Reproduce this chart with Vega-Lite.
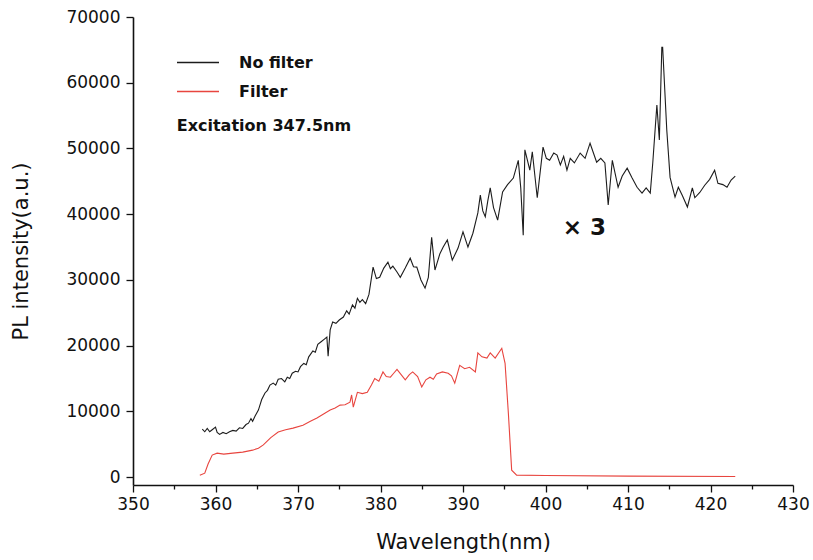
{
  "$schema": "https://vega.github.io/schema/vega-lite/v6.json",
  "width": 660,
  "height": 468,
  "autosize": "none",
  "padding": {"left": 133, "top": 17, "right": 20, "bottom": 75},
  "background": "white",
  "config": {
    "view": {"stroke": null},
    "font": "DejaVu Sans",
    "axis": {
      "grid": false,
      "domainColor": "#111",
      "domainWidth": 1.6,
      "tickColor": "#111",
      "tickWidth": 1.3,
      "labelFont": "DejaVu Sans",
      "labelFontSize": 17,
      "labelColor": "#111",
      "titleFont": "DejaVu Sans",
      "titleFontSize": 21,
      "titleFontWeight": "normal",
      "titleColor": "#111"
    }
  },
  "datasets": {
    "spectra": [
      {"series": "No filter", "wl": 358.4, "pl": 7300},
      {"series": "No filter", "wl": 358.7, "pl": 6900},
      {"series": "No filter", "wl": 359.0, "pl": 7400},
      {"series": "No filter", "wl": 359.3, "pl": 6900},
      {"series": "No filter", "wl": 359.6, "pl": 7200},
      {"series": "No filter", "wl": 360.0, "pl": 7600},
      {"series": "No filter", "wl": 360.2, "pl": 6800},
      {"series": "No filter", "wl": 360.5, "pl": 6500},
      {"series": "No filter", "wl": 360.9, "pl": 6800},
      {"series": "No filter", "wl": 361.3, "pl": 6600},
      {"series": "No filter", "wl": 361.7, "pl": 6900},
      {"series": "No filter", "wl": 362.1, "pl": 7100},
      {"series": "No filter", "wl": 362.5, "pl": 7000},
      {"series": "No filter", "wl": 362.9, "pl": 7500},
      {"series": "No filter", "wl": 363.3, "pl": 7400},
      {"series": "No filter", "wl": 363.7, "pl": 8000},
      {"series": "No filter", "wl": 364.0, "pl": 8200},
      {"series": "No filter", "wl": 364.3, "pl": 8900},
      {"series": "No filter", "wl": 364.5, "pl": 8500},
      {"series": "No filter", "wl": 364.8, "pl": 9300},
      {"series": "No filter", "wl": 365.2, "pl": 10200},
      {"series": "No filter", "wl": 365.6, "pl": 11800},
      {"series": "No filter", "wl": 366.0, "pl": 12800},
      {"series": "No filter", "wl": 366.3, "pl": 13200},
      {"series": "No filter", "wl": 366.6, "pl": 14000},
      {"series": "No filter", "wl": 367.0, "pl": 14300},
      {"series": "No filter", "wl": 367.3, "pl": 14000},
      {"series": "No filter", "wl": 367.6, "pl": 14900},
      {"series": "No filter", "wl": 368.0, "pl": 15000},
      {"series": "No filter", "wl": 368.4, "pl": 14500},
      {"series": "No filter", "wl": 368.7, "pl": 15200},
      {"series": "No filter", "wl": 369.0, "pl": 15000},
      {"series": "No filter", "wl": 369.3, "pl": 15800},
      {"series": "No filter", "wl": 369.7, "pl": 16100},
      {"series": "No filter", "wl": 370.0, "pl": 16000},
      {"series": "No filter", "wl": 370.3, "pl": 16800},
      {"series": "No filter", "wl": 370.7, "pl": 17300},
      {"series": "No filter", "wl": 371.0, "pl": 17100},
      {"series": "No filter", "wl": 371.3, "pl": 18300},
      {"series": "No filter", "wl": 371.8, "pl": 19200},
      {"series": "No filter", "wl": 372.1, "pl": 19000},
      {"series": "No filter", "wl": 372.4, "pl": 20200},
      {"series": "No filter", "wl": 372.8, "pl": 20600},
      {"series": "No filter", "wl": 373.2, "pl": 21000},
      {"series": "No filter", "wl": 373.5, "pl": 21300},
      {"series": "No filter", "wl": 373.65, "pl": 18400},
      {"series": "No filter", "wl": 373.9, "pl": 22400},
      {"series": "No filter", "wl": 374.2, "pl": 23600},
      {"series": "No filter", "wl": 374.6, "pl": 23400},
      {"series": "No filter", "wl": 375.0, "pl": 23900},
      {"series": "No filter", "wl": 375.5, "pl": 24350},
      {"series": "No filter", "wl": 375.9, "pl": 25300},
      {"series": "No filter", "wl": 376.2, "pl": 24800},
      {"series": "No filter", "wl": 376.6, "pl": 26200},
      {"series": "No filter", "wl": 376.9, "pl": 25700},
      {"series": "No filter", "wl": 377.2, "pl": 27200},
      {"series": "No filter", "wl": 377.5, "pl": 26600},
      {"series": "No filter", "wl": 377.8, "pl": 27000},
      {"series": "No filter", "wl": 378.2, "pl": 26400},
      {"series": "No filter", "wl": 378.6, "pl": 27800},
      {"series": "No filter", "wl": 379.1, "pl": 31950},
      {"series": "No filter", "wl": 379.5, "pl": 30200},
      {"series": "No filter", "wl": 379.9, "pl": 30400},
      {"series": "No filter", "wl": 380.4, "pl": 31800},
      {"series": "No filter", "wl": 380.9, "pl": 32700},
      {"series": "No filter", "wl": 381.2, "pl": 31700},
      {"series": "No filter", "wl": 381.5, "pl": 32100},
      {"series": "No filter", "wl": 382.0, "pl": 31200},
      {"series": "No filter", "wl": 382.4, "pl": 30400},
      {"series": "No filter", "wl": 383.0, "pl": 31800},
      {"series": "No filter", "wl": 383.6, "pl": 33300},
      {"series": "No filter", "wl": 384.0, "pl": 32000},
      {"series": "No filter", "wl": 384.4, "pl": 31950},
      {"series": "No filter", "wl": 384.9, "pl": 30000},
      {"series": "No filter", "wl": 385.4, "pl": 28750},
      {"series": "No filter", "wl": 385.8, "pl": 30400},
      {"series": "No filter", "wl": 386.2, "pl": 36500},
      {"series": "No filter", "wl": 386.6, "pl": 31500},
      {"series": "No filter", "wl": 387.2, "pl": 34000},
      {"series": "No filter", "wl": 387.6, "pl": 35000},
      {"series": "No filter", "wl": 388.1, "pl": 36070},
      {"series": "No filter", "wl": 388.7, "pl": 33000},
      {"series": "No filter", "wl": 389.4, "pl": 34850},
      {"series": "No filter", "wl": 390.0, "pl": 37300},
      {"series": "No filter", "wl": 390.6, "pl": 35000},
      {"series": "No filter", "wl": 391.2, "pl": 37100},
      {"series": "No filter", "wl": 391.8, "pl": 40200},
      {"series": "No filter", "wl": 392.1, "pl": 42900},
      {"series": "No filter", "wl": 392.4, "pl": 40500},
      {"series": "No filter", "wl": 392.7, "pl": 39600},
      {"series": "No filter", "wl": 393.0, "pl": 42000},
      {"series": "No filter", "wl": 393.3, "pl": 44000},
      {"series": "No filter", "wl": 393.7, "pl": 41000},
      {"series": "No filter", "wl": 394.2, "pl": 39100},
      {"series": "No filter", "wl": 394.8, "pl": 43400},
      {"series": "No filter", "wl": 395.4, "pl": 44500},
      {"series": "No filter", "wl": 396.1, "pl": 45500},
      {"series": "No filter", "wl": 396.7, "pl": 48200},
      {"series": "No filter", "wl": 397.0, "pl": 44000},
      {"series": "No filter", "wl": 397.3, "pl": 36800},
      {"series": "No filter", "wl": 397.5, "pl": 49800},
      {"series": "No filter", "wl": 398.1, "pl": 46700},
      {"series": "No filter", "wl": 398.4, "pl": 49500},
      {"series": "No filter", "wl": 399.0, "pl": 42500},
      {"series": "No filter", "wl": 399.7, "pl": 50200},
      {"series": "No filter", "wl": 400.1, "pl": 48500},
      {"series": "No filter", "wl": 400.5, "pl": 48200},
      {"series": "No filter", "wl": 401.0, "pl": 49300},
      {"series": "No filter", "wl": 401.4, "pl": 49000},
      {"series": "No filter", "wl": 401.8, "pl": 47500},
      {"series": "No filter", "wl": 402.2, "pl": 48800},
      {"series": "No filter", "wl": 402.6, "pl": 46700},
      {"series": "No filter", "wl": 403.0, "pl": 48500},
      {"series": "No filter", "wl": 403.5, "pl": 47800},
      {"series": "No filter", "wl": 404.2, "pl": 49300},
      {"series": "No filter", "wl": 404.8, "pl": 48500},
      {"series": "No filter", "wl": 405.4, "pl": 50800},
      {"series": "No filter", "wl": 406.2, "pl": 47900},
      {"series": "No filter", "wl": 406.7, "pl": 48500},
      {"series": "No filter", "wl": 407.2, "pl": 47800},
      {"series": "No filter", "wl": 407.6, "pl": 41400},
      {"series": "No filter", "wl": 408.1, "pl": 48200},
      {"series": "No filter", "wl": 408.8, "pl": 44100},
      {"series": "No filter", "wl": 409.3, "pl": 45800},
      {"series": "No filter", "wl": 409.9, "pl": 47000},
      {"series": "No filter", "wl": 410.5, "pl": 45500},
      {"series": "No filter", "wl": 411.1, "pl": 44100},
      {"series": "No filter", "wl": 411.7, "pl": 43200},
      {"series": "No filter", "wl": 412.2, "pl": 44000},
      {"series": "No filter", "wl": 412.7, "pl": 43200},
      {"series": "No filter", "wl": 413.0, "pl": 47800},
      {"series": "No filter", "wl": 413.5, "pl": 56600},
      {"series": "No filter", "wl": 413.8, "pl": 51300},
      {"series": "No filter", "wl": 414.1, "pl": 65400},
      {"series": "No filter", "wl": 414.2, "pl": 65400},
      {"series": "No filter", "wl": 414.7, "pl": 52800},
      {"series": "No filter", "wl": 415.1, "pl": 45600},
      {"series": "No filter", "wl": 415.7, "pl": 42600},
      {"series": "No filter", "wl": 416.1, "pl": 44100},
      {"series": "No filter", "wl": 416.6, "pl": 42800},
      {"series": "No filter", "wl": 417.2, "pl": 41100},
      {"series": "No filter", "wl": 417.8, "pl": 44000},
      {"series": "No filter", "wl": 418.1, "pl": 42500},
      {"series": "No filter", "wl": 418.7, "pl": 43300},
      {"series": "No filter", "wl": 419.3, "pl": 44400},
      {"series": "No filter", "wl": 419.9, "pl": 45300},
      {"series": "No filter", "wl": 420.5, "pl": 46700},
      {"series": "No filter", "wl": 420.9, "pl": 44700},
      {"series": "No filter", "wl": 421.5, "pl": 44500},
      {"series": "No filter", "wl": 422.0, "pl": 44100},
      {"series": "No filter", "wl": 422.5, "pl": 45200},
      {"series": "No filter", "wl": 423.0, "pl": 45800},
      {"series": "Filter", "wl": 358.1, "pl": 300},
      {"series": "Filter", "wl": 358.7, "pl": 600},
      {"series": "Filter", "wl": 359.1, "pl": 2000},
      {"series": "Filter", "wl": 359.6, "pl": 3350},
      {"series": "Filter", "wl": 360.2, "pl": 3650},
      {"series": "Filter", "wl": 361.0, "pl": 3500},
      {"series": "Filter", "wl": 362.1, "pl": 3650},
      {"series": "Filter", "wl": 363.3, "pl": 3800},
      {"series": "Filter", "wl": 364.5, "pl": 4100},
      {"series": "Filter", "wl": 365.2, "pl": 4400},
      {"series": "Filter", "wl": 365.8, "pl": 4900},
      {"series": "Filter", "wl": 366.7, "pl": 6000},
      {"series": "Filter", "wl": 367.6, "pl": 6850},
      {"series": "Filter", "wl": 368.5, "pl": 7200},
      {"series": "Filter", "wl": 369.4, "pl": 7450},
      {"series": "Filter", "wl": 370.6, "pl": 7900},
      {"series": "Filter", "wl": 371.5, "pl": 8500},
      {"series": "Filter", "wl": 372.3, "pl": 9000},
      {"series": "Filter", "wl": 373.1, "pl": 9600},
      {"series": "Filter", "wl": 373.9, "pl": 10200},
      {"series": "Filter", "wl": 374.5, "pl": 10500},
      {"series": "Filter", "wl": 375.1, "pl": 10950},
      {"series": "Filter", "wl": 375.7, "pl": 11000},
      {"series": "Filter", "wl": 376.3, "pl": 11400},
      {"series": "Filter", "wl": 376.5, "pl": 12500},
      {"series": "Filter", "wl": 376.7, "pl": 10650},
      {"series": "Filter", "wl": 377.2, "pl": 12900},
      {"series": "Filter", "wl": 377.8, "pl": 12700},
      {"series": "Filter", "wl": 378.4, "pl": 12900},
      {"series": "Filter", "wl": 378.9, "pl": 14000},
      {"series": "Filter", "wl": 379.3, "pl": 15000},
      {"series": "Filter", "wl": 379.8, "pl": 14600},
      {"series": "Filter", "wl": 380.3, "pl": 16000},
      {"series": "Filter", "wl": 380.7, "pl": 15300},
      {"series": "Filter", "wl": 381.2, "pl": 15200},
      {"series": "Filter", "wl": 381.6, "pl": 15800},
      {"series": "Filter", "wl": 382.0, "pl": 16400},
      {"series": "Filter", "wl": 382.5, "pl": 15600},
      {"series": "Filter", "wl": 383.0, "pl": 14800},
      {"series": "Filter", "wl": 383.5, "pl": 15600},
      {"series": "Filter", "wl": 383.9, "pl": 16000},
      {"series": "Filter", "wl": 384.5, "pl": 15300},
      {"series": "Filter", "wl": 385.0, "pl": 13700},
      {"series": "Filter", "wl": 385.5, "pl": 14800},
      {"series": "Filter", "wl": 386.0, "pl": 15200},
      {"series": "Filter", "wl": 386.4, "pl": 14900},
      {"series": "Filter", "wl": 386.8, "pl": 15700},
      {"series": "Filter", "wl": 387.5, "pl": 16000},
      {"series": "Filter", "wl": 388.2, "pl": 15800},
      {"series": "Filter", "wl": 388.6, "pl": 15400},
      {"series": "Filter", "wl": 389.0, "pl": 14300},
      {"series": "Filter", "wl": 389.6, "pl": 17000},
      {"series": "Filter", "wl": 390.2, "pl": 16500},
      {"series": "Filter", "wl": 390.8, "pl": 16700},
      {"series": "Filter", "wl": 391.5, "pl": 16000},
      {"series": "Filter", "wl": 391.8, "pl": 18900},
      {"series": "Filter", "wl": 392.3, "pl": 18300},
      {"series": "Filter", "wl": 392.9, "pl": 18100},
      {"series": "Filter", "wl": 393.3, "pl": 18900},
      {"series": "Filter", "wl": 393.9, "pl": 18100},
      {"series": "Filter", "wl": 394.7, "pl": 19600},
      {"series": "Filter", "wl": 395.1, "pl": 17300},
      {"series": "Filter", "wl": 395.5, "pl": 9700},
      {"series": "Filter", "wl": 395.9, "pl": 1060},
      {"series": "Filter", "wl": 396.5, "pl": 300},
      {"series": "Filter", "wl": 400.0, "pl": 250},
      {"series": "Filter", "wl": 410.0, "pl": 150},
      {"series": "Filter", "wl": 423.0, "pl": 100}
    ],
    "notes": [
      {"wl": 355.3, "pl": 53400, "label": "Excitation 347.5nm"}
    ],
    "factor": [
      {"wl": 404.7, "pl": 37900, "label": "× 3"}
    ]
  },
  "layer": [
    {
      "data": {"name": "spectra"},
      "mark": {"type": "line", "strokeWidth": 1.1, "interpolate": "linear"},
      "encoding": {
        "x": {
          "field": "wl",
          "type": "quantitative",
          "title": "Wavelength(nm)",
          "scale": {"domain": [350, 430], "nice": false, "zero": false},
          "axis": {
            "values": [350, 355, 360, 365, 370, 375, 380, 385, 390, 395, 400, 405, 410, 415, 420, 425, 430],
            "labelExpr": "datum.value % 10 === 0 ? datum.label : ''",
            "tickSize": {"condition": {"test": "datum.value % 10 === 0", "value": 7}, "value": 4},
            "labelPadding": 4,
            "titlePadding": 19,
            "labelFlush": false,
            "labelOverlap": false
          }
        },
        "y": {
          "field": "pl",
          "type": "quantitative",
          "title": "PL intensity(a.u.)",
          "scale": {"domain": [-1200, 70000], "nice": false, "zero": false},
          "axis": {
            "values": [0, 5000, 10000, 15000, 20000, 25000, 30000, 35000, 40000, 45000, 50000, 55000, 60000, 65000, 70000],
            "labelExpr": "datum.value % 10000 === 0 ? format(datum.value, 'd') : ''",
            "tickSize": {"condition": {"test": "datum.value % 10000 === 0", "value": 7}, "value": 4},
            "labelPadding": 6,
            "titlePadding": 34,
            "labelFlush": false,
            "labelOverlap": false
          }
        },
        "color": {
          "field": "series",
          "type": "nominal",
          "scale": {"domain": ["No filter", "Filter"], "range": ["#1c1c1c", "#e8453f"]},
          "legend": {
            "title": null,
            "orient": "none",
            "legendX": 43,
            "legendY": 32,
            "symbolType": "stroke",
            "symbolSize": 1764,
            "symbolStrokeWidth": 1.3,
            "clipHeight": 27,
            "labelOffset": 19,
            "labelFont": "DejaVu Sans",
            "labelFontSize": 16,
            "labelFontWeight": "bold",
            "labelColor": "#111"
          }
        },
        "detail": {"field": "series"}
      }
    },
    {
      "data": {"name": "notes"},
      "mark": {"type": "text", "align": "left", "baseline": "middle", "font": "DejaVu Sans", "fontSize": 16, "fontWeight": "bold", "color": "#111"},
      "encoding": {
        "x": {"field": "wl", "type": "quantitative"},
        "y": {"field": "pl", "type": "quantitative"},
        "text": {"field": "label"}
      }
    },
    {
      "data": {"name": "factor"},
      "mark": {"type": "text", "align": "center", "baseline": "middle", "font": "DejaVu Sans", "fontSize": 23, "fontWeight": "bold", "color": "#111"},
      "encoding": {
        "x": {"field": "wl", "type": "quantitative"},
        "y": {"field": "pl", "type": "quantitative"},
        "text": {"field": "label"}
      }
    }
  ]
}
